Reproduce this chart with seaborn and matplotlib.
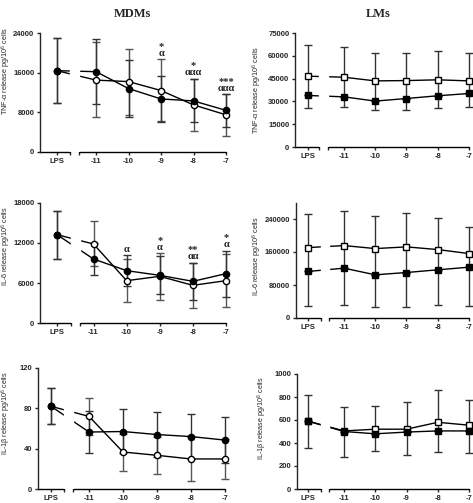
import matplotlib
matplotlib.use("Agg")
import matplotlib.pyplot as plt
import seaborn as sns
import numpy as np

sns.set_style("ticks")
plt.rcParams["font.family"] = ["Liberation Sans", "DejaVu Sans"]
plt.rcParams["mathtext.fontset"] = "custom"
plt.rcParams["mathtext.rm"] = "Liberation Sans"
plt.rcParams["axes.linewidth"] = 1.0

doses = ["LPS", "-11", "-10", "-9", "-8", "-7"]
dose_x = [-11, -10, -9, -8, -7]

# MDMs, TNF-alpha
mdm_tnf_filled = [16400, 16200, 12800, 10700, 10300, 8400]
mdm_tnf_filled_hi = [23000, 22800, 18500, 15300, 14700, 11700]
mdm_tnf_filled_lo = [9900, 9600, 7100, 6100, 6000, 5100]
mdm_tnf_open = [16400, 14500, 14200, 12400, 9500, 7500]
mdm_tnf_open_hi = [23000, 22100, 20800, 18700, 14800, 11700]
mdm_tnf_open_lo = [9900, 7100, 7500, 6200, 4200, 3300]
mdm_tnf_star = ["", "", "", "*", "*", "***"]
mdm_tnf_alpha = ["", "", "", "α", "ααα", "ααα"]

# MDMs, IL-6
mdm_il6_filled = [13250, 9600, 7850, 7150, 6250, 7400]
mdm_il6_filled_hi = [16750, 11950, 10150, 10000, 9000, 10850]
mdm_il6_filled_lo = [9650, 7250, 5550, 4300, 3500, 3950]
mdm_il6_open = [13250, 11850, 6350, 7000, 5650, 6350]
mdm_il6_open_hi = [16750, 15250, 9550, 10500, 9050, 10300]
mdm_il6_open_lo = [9650, 8500, 3150, 3500, 2250, 2400]
mdm_il6_star = ["", "", "", "*", "**", "*"]
mdm_il6_alpha = ["", "", "α", "α", "αα", "α"]

# MDMs, IL-1beta
mdm_il1_filled = [82, 56.5, 57, 54, 52, 48.5]
mdm_il1_filled_hi = [100, 77.7, 79, 76, 74, 71.5]
mdm_il1_filled_lo = [64.5, 35.4, 35.4, 31.8, 29.8, 25.7]
mdm_il1_open = [82, 72, 36.7, 33.4, 29.8, 29.8]
mdm_il1_open_hi = [100, 90.3, 55, 51.6, 51.4, 49.7]
mdm_il1_open_lo = [64.5, 54, 18, 15.2, 8.2, 9.9]

# LMs, TNF-alpha
lm_tnf_filled = [33900, 33000, 30200, 31900, 33700, 35200]
lm_tnf_filled_lo = [25400, 26000, 24100, 24300, 25400, 26500]
lm_tnf_open = [46600, 45900, 43500, 43700, 44200, 43500]
lm_tnf_open_hi = [67400, 66000, 62100, 62100, 63200, 62100]

# LMs, IL-6
lm_il6_filled = [112800, 120800, 104700, 110300, 116800, 123200]
lm_il6_filled_lo = [28200, 32200, 26600, 26600, 32200, 28200]
lm_il6_open = [170700, 175600, 168300, 172400, 165900, 156200]
lm_il6_open_hi = [251300, 259300, 247300, 255300, 243200, 221500]

# LMs, IL-1beta
lm_il1_filled = [590, 500, 480, 495, 505, 505]
lm_il1_filled_lo = [360, 280, 330, 300, 320, 310]
lm_il1_open = [590, 505, 520, 520, 580, 555]
lm_il1_open_hi = [815, 710, 720, 755, 865, 775]

W, H = 473, 503
fig = plt.figure(figsize=(W / 100, H / 100), dpi=100)


def make_panel(geom, ylim, yticks, ylabel, label_pos):
    yaxis, lps, segend, segstart, m11, m7, ytop, y0 = geom
    unit = (m7 - m11) / 4.0
    to_x = lambda px: -11 + (px - m11) / unit
    xl, xr = to_x(yaxis), -7 + 0.3
    ax = fig.add_axes([yaxis / W, (H - y0) / H, (xr - xl) * unit / W, (y0 - ytop) / H])
    ax.set_xlim(xl, xr)
    ax.set_ylim(*ylim)
    sns.despine(ax=ax)
    ax.spines["bottom"].set_visible(False)
    lps_x, end_x, start_x = to_x(lps), to_x(segend), to_x(segstart)
    trans = ax.get_xaxis_transform()
    ax.plot([xl, end_x], [0, 0], transform=trans, color="black", lw=1, clip_on=False)
    ax.plot([start_x, -7], [0, 0], transform=trans, color="black", lw=1, clip_on=False)
    ax.axvspan(end_x, start_x, ymin=0.004, ymax=1, color="white", zorder=3)
    ax.set_xticks([lps_x] + dose_x, doses)
    ax.set_xticks([end_x, start_x], minor=True)
    ax.set_yticks(yticks)
    ax.tick_params(which="both", length=2.5, width=1, labelsize=5.5, pad=1.5)
    for t in ax.get_xticklabels() + ax.get_yticklabels():
        t.set_fontweight("bold")
    ax.set_ylabel(ylabel, fontsize=5.2)
    ax.yaxis.label.set_va("center")
    ax.yaxis.set_label_coords((label_pos[0] - yaxis) / ((xr - xl) * unit),
                              label_pos[1])
    return ax, [lps_x] + dose_x


def series(ax, xs, vals, lo, hi, marker, filled, ecolor):
    vals, lo, hi = np.array(vals), np.array(lo), np.array(hi)
    ax.errorbar(xs, vals, yerr=[vals - lo, hi - vals], fmt="none", ecolor=ecolor,
                elinewidth=1, capsize=3, capthick=1, zorder=2)
    sns.lineplot(x=xs, y=vals, ax=ax, color="black", lw=1, marker=marker,
                 markersize=4.5, markeredgecolor="black", markeredgewidth=1,
                 markerfacecolor="black" if filled else "white", zorder=2.5)


def marks(ax, xs, hi_a, hi_b, stars, alphas):
    # significance symbols: star line above the alpha line, one text per dose
    for x, a, b, s, al in zip(xs, hi_a, hi_b, stars, alphas):
        if not (s or al):
            continue
        label = f"{s}\n{al}" if s else al
        ax.annotate(label, (x, max(a, b)), xytext=(0, 1), textcoords="offset points",
                    ha="center", va="bottom", fontsize=7.5, linespacing=0.72,
                    family="Liberation Serif", fontweight="bold")


# MDMs column
ax, xs = make_panel((40, 57, 70, 79, 96, 226, 33, 152), (0, 24000),
                    [0, 8000, 16000, 24000], "TNF-α release pg/10$^6$ cells", (6.5, 0.68))
series(ax, xs, mdm_tnf_open, mdm_tnf_open_lo, mdm_tnf_open_hi, "o", False, "#555555")
series(ax, xs, mdm_tnf_filled, mdm_tnf_filled_lo, mdm_tnf_filled_hi, "o", True, "#333333")
marks(ax, xs, mdm_tnf_open_hi, mdm_tnf_filled_hi, mdm_tnf_star, mdm_tnf_alpha)

ax, xs = make_panel((40, 57, 71, 80, 93.5, 226, 203, 323), (0, 18000),
                    [0, 6000, 12000, 18000], "IL-6 release pg/10$^6$ cells", (6.5, 0.64))
series(ax, xs, mdm_il6_open, mdm_il6_open_lo, mdm_il6_open_hi, "o", False, "#555555")
series(ax, xs, mdm_il6_filled, mdm_il6_filled_lo, mdm_il6_filled_hi, "o", True, "#333333")
marks(ax, xs, mdm_il6_open_hi, mdm_il6_filled_hi, mdm_il6_star, mdm_il6_alpha)

ax, xs = make_panel((38, 51, 64, 73, 89, 225, 368, 489), (0, 120),
                    [0, 40, 80, 120], "IL-1β release pg/10$^6$ cells", (6.5, 0.63))
series(ax, xs, mdm_il1_open, mdm_il1_open_lo, mdm_il1_open_hi, "o", False, "#555555")
series(ax, xs, mdm_il1_filled, mdm_il1_filled_lo, mdm_il1_filled_hi, "o", True, "#333333")

# LMs column
ax, xs = make_panel((295, 308, 319, 328, 344, 469, 33, 147), (0, 75000),
                    [0, 15000, 30000, 45000, 60000, 75000],
                    "TNF-α release pg/10$^6$ cells", (257, 0.5))
series(ax, xs, lm_tnf_open, lm_tnf_filled, lm_tnf_open_hi, "s", False, "#333333")
series(ax, xs, lm_tnf_filled, lm_tnf_filled_lo, lm_tnf_filled, "s", True, "#333333")

ax, xs = make_panel((296, 308, 321, 329, 344, 469, 202.5, 318), (0, 280000),
                    [0, 80000, 160000, 240000], "IL-6 release pg/10$^6$ cells", (257, 0.54))
series(ax, xs, lm_il6_open, lm_il6_filled, lm_il6_open_hi, "s", False, "#333333")
series(ax, xs, lm_il6_filled, lm_il6_filled_lo, lm_il6_filled, "s", True, "#333333")

ax, xs = make_panel((297, 308, 321, 329, 344, 469, 374, 489), (0, 1000),
                    [0, 200, 400, 600, 800, 1000], "IL-1β release pg/10$^6$ cells", (262, 0.62))
series(ax, xs, lm_il1_open, lm_il1_filled, lm_il1_open_hi, "s", False, "#333333")
series(ax, xs, lm_il1_filled, lm_il1_filled_lo, lm_il1_filled, "s", True, "#333333")

fig.text(132 / W, 1 - 14 / H, "MDMs", ha="center", va="center", fontsize=9,
         family="Liberation Serif", fontweight="bold")
fig.text(378 / W, 1 - 14 / H, "LMs", ha="center", va="center", fontsize=9,
         family="Liberation Serif", fontweight="bold")

fig.savefig("out.png", dpi=100)
